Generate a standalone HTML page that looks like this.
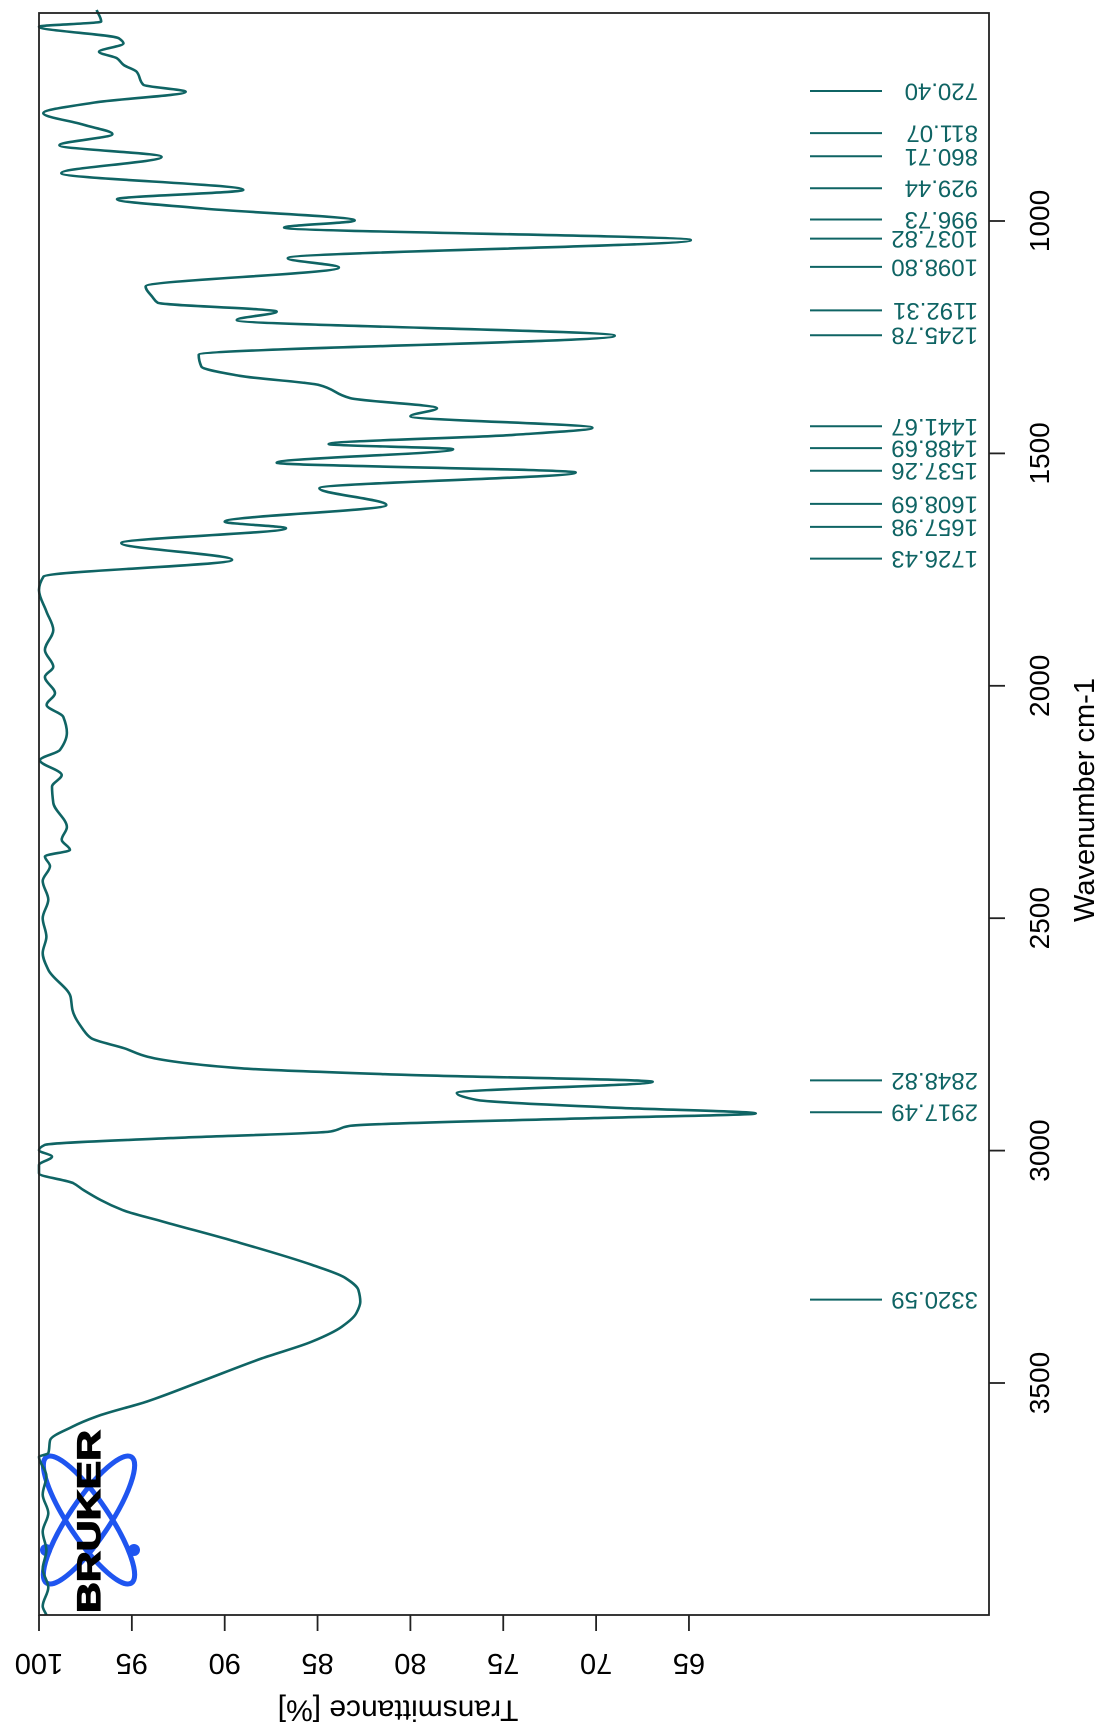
<!DOCTYPE html>
<html><head><meta charset="utf-8"><title>IR spectrum</title>
<style>
html,body{margin:0;padding:0;background:#fff;}
svg{display:block;}
text{font-family:"Liberation Sans",Arial,sans-serif;}
</style></head>
<body>
<svg id="chart" width="1105" height="1732" viewBox="0 0 1105 1732" xmlns="http://www.w3.org/2000/svg">
  <rect x="0" y="0" width="1105" height="1732" fill="#fff"/>
  <g id="logo">
    <ellipse cx="89" cy="1520" rx="76" ry="20" transform="rotate(56 89 1520)" fill="none" stroke="#1f55f0" stroke-width="5"/>
    <ellipse cx="89" cy="1520" rx="76" ry="20" transform="rotate(-56 89 1520)" fill="none" stroke="#1f55f0" stroke-width="5"/>
    <circle cx="46" cy="1550" r="6" fill="#1f55f0"/>
    <circle cx="134" cy="1550" r="6" fill="#1f55f0"/>
    <text x="0" y="0" transform="translate(100,1613) rotate(-90)" font-size="32" font-weight="bold" fill="#000" stroke="#000" stroke-width="1.2" textLength="183" lengthAdjust="spacingAndGlyphs">BRUKER</text>
  </g>
  <g id="peaks"></g>
  <path id="spectrum" fill="none" stroke="#0f6464" stroke-width="2.6" stroke-linejoin="round"/>
  <rect x="39" y="13" width="950" height="1602" fill="none" stroke="#222" stroke-width="1.8"/>
  <g id="xaxis"></g>
  <g id="yaxis"></g>
  <text transform="translate(398,1710) rotate(180)" text-anchor="middle" dominant-baseline="central" font-size="30" fill="#000">Transmittance [%]</text>
  <text transform="translate(1094,800) rotate(-90)" text-anchor="middle" font-size="29" fill="#000">Wavenumber cm-1</text>
</svg>
<script>
const wavenumbers = [546,571,582,607,618,636,650,664,679,707,722,745,768,793,813,837,862,897,933,953,973,999,1014,1041,1080,1100,1141,1163,1176,1195,1213,1247,1288,1313,1333,1353,1381,1403,1420,1445,1460,1480,1491,1520,1541,1575,1611,1647,1661,1693,1729,1765,1794,1840,1880,1923,1959,1981,2016,2041,2067,2101,2138,2160,2192,2217,2252,2304,2331,2353,2367,2388,2420,2460,2500,2540,2575,2611,2669,2697,2741,2758,2780,2798,2823,2837,2852,2876,2891,2908,2920,2930,2947,2959,2973,2988,2999,3013,3031,3049,3070,3085,3128,3153,3192,3246,3274,3300,3325,3349,3379,3411,3447,3500,3540,3572,3594,3623,3651,3659,3700,3740,3780,3820,3860,3900,3940,3980,3999];
const transmittance = [96.9,96.65,100,95.7,95.45,96.77,95.8,95.45,94.74,94.38,92.1,97,99.77,97.6,96.05,98.9,93.4,98.8,89,95.8,91.15,83,86.8,64.9,86.6,83.85,94.26,93.9,93.6,87.2,89.35,69,91.4,91.26,89.2,84.9,83.24,78.57,80,70.2,74.4,84.4,77.7,87.2,71.1,84.9,81.3,90,86.7,95.57,89.6,99.76,100,99.6,99.23,99.68,99.23,99.68,99.14,99.59,98.69,98.5,98.87,99.95,98.78,99.3,99.23,98.5,98.78,98.33,99.68,99.41,99.8,99.5,99.8,99.6,99.8,99.5,98.3,98.2,97.6,97.2,95.4,94.15,89.1,80.3,66.95,77.5,76.45,68.8,61.4,70.1,83.3,84.3,92.9,99.7,100,99.3,100,100,98.16,97.6,95.5,93.3,89.75,85.3,83.5,82.8,82.7,82.9,83.7,85.3,88,91.5,94.2,96.9,98.2,99.4,99.5,100,99.6,99.8,99.5,99.8,99.6,99.8,99.5,99.8,99.6];
const peakWavenumbers = [720.40,811.07,860.71,929.44,996.73,1037.82,1098.80,1192.31,1245.78,1441.67,1488.69,1537.26,1608.69,1657.98,1726.43,2848.82,2917.49,3320.59];
const transTicks = [100,95,90,85,80,75,70,65];
const wnTicks = [1000,1500,2000,2500,3000,3500];

const NS = 'http://www.w3.org/2000/svg';
function xOf(t){ return 39 + (100 - t) * 18.57; }
function yOf(w){ return 221 + (w - 1000) * 0.4648; }
function mk(tag, attrs, parent){
  const e = document.createElementNS(NS, tag);
  for (const k in attrs) e.setAttribute(k, attrs[k]);
  parent.appendChild(e);
  return e;
}

// spectrum: monotone cubic (Fritsch-Carlson) of x as function of y
(function(){
  const n = wavenumbers.length;
  const ys = wavenumbers.map(yOf), xs = transmittance.map(xOf);
  const h = [], s = [];
  for (let i=0;i<n-1;i++){ h[i] = ys[i+1]-ys[i]; s[i] = (xs[i+1]-xs[i])/h[i]; }
  const m = new Array(n);
  m[0] = s[0]; m[n-1] = s[n-2];
  for (let i=1;i<n-1;i++){
    if (s[i-1]*s[i] <= 0) m[i] = 0;
    else { const w1 = 2*h[i]+h[i-1], w2 = h[i]+2*h[i-1]; m[i] = (w1+w2)/(w1/s[i-1]+w2/s[i]); }
  }
  let d = 'M' + xs[0].toFixed(1) + ',' + ys[0].toFixed(1);
  for (let i=0;i<n-1;i++){
    const dy = h[i]/3;
    d += ' C' + (xs[i]+m[i]*dy).toFixed(1) + ',' + (ys[i]+dy).toFixed(1) + ' ' +
         (xs[i+1]-m[i+1]*dy).toFixed(1) + ',' + (ys[i+1]-dy).toFixed(1) + ' ' +
         xs[i+1].toFixed(1) + ',' + ys[i+1].toFixed(1);
  }
  document.getElementById('spectrum').setAttribute('d', d);
})();

// peak labels
const peaksG = document.getElementById('peaks');
peakWavenumbers.forEach(w=>{
  const y = yOf(w);
  const ln = mk('line', {x1:810, x2:882, y1:y, y2:y, stroke:'#0f6464', 'stroke-width':2}, peaksG);
  
  
  const t = mk('text', {transform:'translate(978,'+y.toFixed(1)+') rotate(180)', 'dominant-baseline':'central', 'font-size':24, fill:'#0f6464'}, peaksG);
  
  
  t.textContent = w.toFixed(2);
});

// bottom axis (transmittance)
const xg = document.getElementById('xaxis');
transTicks.forEach(v=>{
  const x = xOf(v);
  const tk = mk('line', {x1:x, x2:x, y1:1615, y2:1631, stroke:'#222', 'stroke-width':1.8}, xg);
  
  
  const t = mk('text', {transform:'translate('+x.toFixed(1)+',1663) rotate(180)', 'text-anchor':'middle', 'dominant-baseline':'central', 'font-size':29, fill:'#000'}, xg);
  
  
  t.textContent = String(v);
});

// right axis (wavenumber)
const yg = document.getElementById('yaxis');
wnTicks.forEach(v=>{
  const y = yOf(v);
  const tk = mk('line', {x1:989, x2:1005, y1:y, y2:y, stroke:'#222', 'stroke-width':1.8}, yg);
  
  
  const t = mk('text', {transform:'translate(1049,'+y.toFixed(1)+') rotate(-90)', 'text-anchor':'middle', 'font-size':28, fill:'#000'}, yg);
  
  
  t.textContent = String(v);
});
</script>
</body></html>
